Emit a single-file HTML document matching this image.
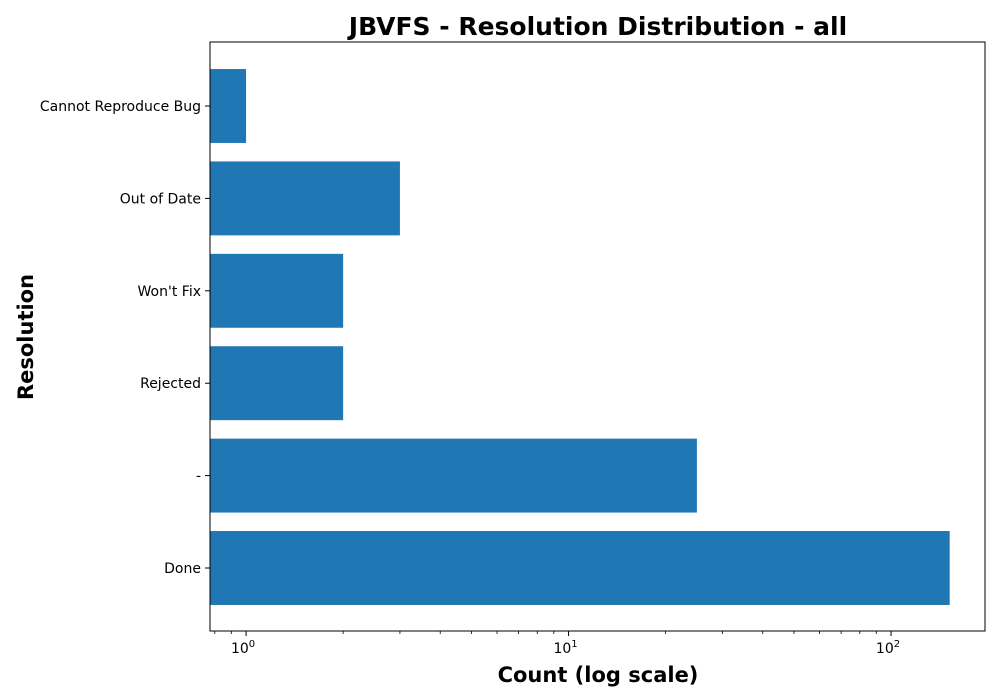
<!DOCTYPE html>
<html><head><meta charset="utf-8"><style>
body{margin:0;background:#fff;}
svg{display:block;font-family:"DejaVu Sans","Liberation Sans",sans-serif;}
</style></head><body>
<svg id="chart" width="1000" height="700">
<text x="598" y="35" text-anchor="middle" font-size="25" font-weight="bold">JBVFS - Resolution Distribution - all</text>
<text x="598" y="682" text-anchor="middle" font-size="21" font-weight="bold">Count (log scale)</text>
<text transform="translate(33,337) rotate(-90)" text-anchor="middle" font-size="21" font-weight="bold">Resolution</text>
<g id="plot"></g>
</svg>
<script>
const categories = ["Done", "-", "Rejected", "Won't Fix", "Out of Date", "Cannot Reproduce Bug"];
const counts = [152, 25, 2, 2, 3, 1];
const majorTicks = [1, 10, 100];
const majorLabels = ["0", "1", "2"];

const L = 210, R = 985, T = 42, B = 631;
const xMin = 0.773, xMax = 195.6;
const NS = "http://www.w3.org/2000/svg";
function x(v){ return L + (Math.log10(v) - Math.log10(xMin)) / (Math.log10(xMax) - Math.log10(xMin)) * (R - L); }
const n = categories.length;
const step = 92.4;
function y(i){ return 568 - i * step; }
const g = document.getElementById('plot');
function mk(tag, attrs){ const e = document.createElementNS(NS, tag); for (const k in attrs) e.setAttribute(k, attrs[k]); g.appendChild(e); return e; }

categories.forEach((c, i) => {
  const bh = step * 0.8;
  const r = mk('rect', {x: L, y: y(i) - bh / 2, width: x(counts[i]) - L, height: bh, fill: '#1f77b4'});
  
  
  const t = mk('line', {x1: L - 5, x2: L, y1: y(i), y2: y(i), stroke: '#000', 'stroke-width': 1});
  
  
  const lb = mk('text', {x: L - 9, y: y(i) + 5, 'text-anchor': 'end', 'font-size': 14});
  lb.textContent = c;
  
  
});

for (let d = -1; d <= 2; d++) {
  for (let m = 2; m <= 9; m++) {
    const v = m * Math.pow(10, d);
    if (v < xMin || v > xMax) continue;
    const t = mk('line', {x1: x(v), x2: x(v), y1: B, y2: B + 3, stroke: '#000', 'stroke-width': 0.8});
    
    
  }
}
majorTicks.forEach((v, i) => {
  const t = mk('line', {x1: x(v), x2: x(v), y1: B, y2: B + 5, stroke: '#000', 'stroke-width': 1});
  
  
  const lb = mk('text', {x: x(v) - 3, y: B + 22, 'text-anchor': 'middle', 'font-size': 14});
  lb.innerHTML = '10<tspan dy="-6" font-size="10">' + majorLabels[i] + '</tspan>';
  
  
});

const frame = mk('rect', {x: L, y: T, width: R - L, height: B - T, fill: 'none', stroke: '#000', 'stroke-width': 1});


</script>
</body></html>
